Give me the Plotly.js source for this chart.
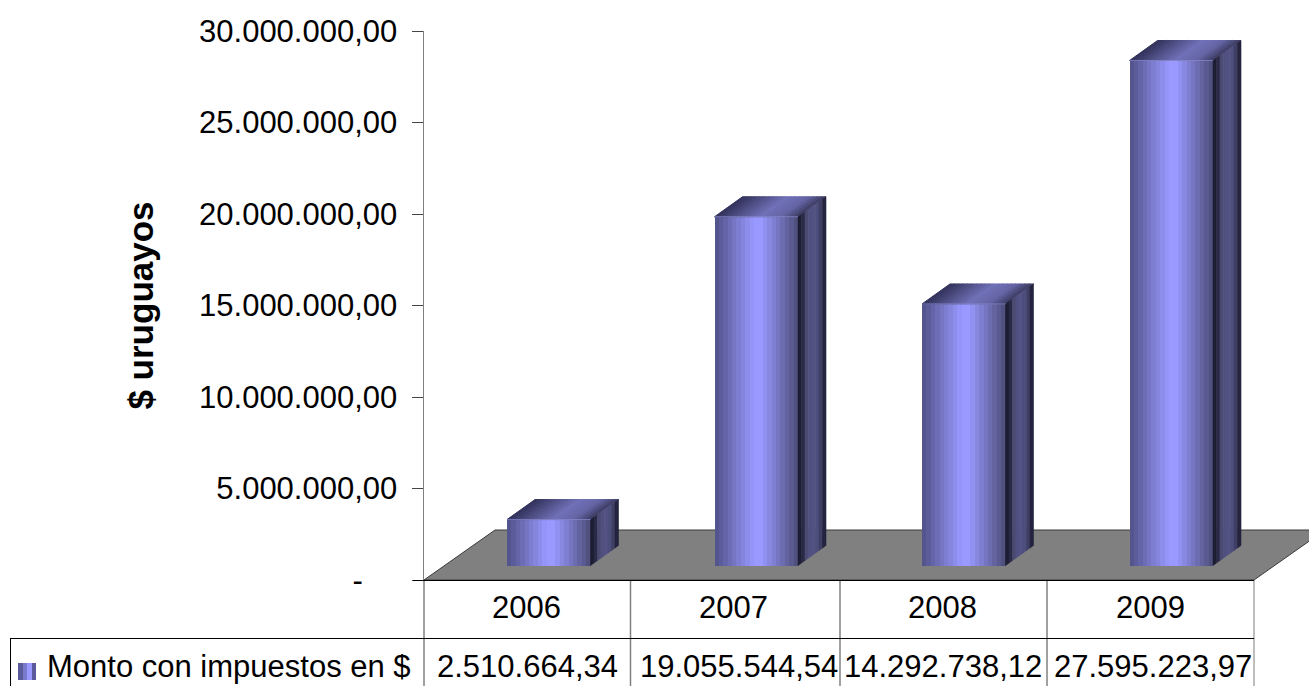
<!DOCTYPE html>
<html><head><meta charset="utf-8">
<script src="https://cdn.plot.ly/plotly-3.0.1.min.js"></script>
<style>html,body{margin:0;padding:0;background:#fff;overflow:hidden}</style>
</head><body><div id="chart" style="width:1309px;height:686px"></div>
<script>
const years = ['2006','2007','2008','2009'];
const values = [2510664.34,19055544.54,14292738.12,27595223.97];
const tableLabels = ['2.510.664,34','19.055.544,54','14.292.738,12','27.595.223,97'];
const seriesName = 'Monto con impuestos en $';
const yTicks = [0,5000000,10000000,15000000,20000000,25000000,30000000];
const yTickText = ['-\u00a0\u00a0\u00a0\u00a0','5.000.000,00','10.000.000,00','15.000.000,00','20.000.000,00','25.000.000,00','30.000.000,00'];

// layout geometry (px)
const W=1309,H=686,L=424,T=31,B=580,catPx=207.5;
const plotW=W-L,plotH=B-T,yMax=30000000;
const ux=p=>p/catPx, uy=p=>p*yMax/plotH;
const barW=ux(83.5), depthX=ux(28), depthY=uy(20), lift=uy(14.5), barShift=ux(21);
const px=p=>(p-L)/plotW, py=p=>(B-p)/plotH;
const yearNudge=[-1,-2,0,0], valueNudge=[0,4,0,3];

function lerpStops(stops,n){const out=[];for(let i=0;i<n;i++){const t=(i+0.5)/n;let k=0;while(k<stops.length-2&&t>stops[k+1][0])k++;const a=stops[k],b=stops[k+1],f=Math.min(1,Math.max(0,(t-a[0])/(b[0]-a[0])));out.push('rgb('+[0,1,2].map(c=>Math.round(a[1][c]+(b[1][c]-a[1][c])*f)).join(',')+')');}return out;}
const frontCols=lerpStops([[0,[80,80,135]],[0.47,[153,153,255]],[0.56,[153,153,255]],[1,[76,76,120]]],19);
const topCols=lerpStops([[0,[48,48,88]],[0.55,[112,112,184]],[0.8,[100,100,165]],[1,[60,60,98]]],19);
const sideCols=['#1d1d33','#2a2a46','#4a4a72','#505080','#525284','#4e4e7c','#3f3f66','#24243e'];

const traces=[];
const left=i=>i+0.5-barW/2+barShift;
frontCols.forEach((c,k)=>{
  const bw=barW/frontCols.length;
  traces.push({type:'bar',x:years.map((_,i)=>i+0.5),y:values,base:values.map(()=>lift),
    width:values.map(()=>bw),offset:values.map(()=>-barW/2+barShift+k*bw),
    marker:{color:c,line:{width:0}},hoverinfo:'skip',showlegend:false});
});
function band(i,f0,f1,kind){
  const top=values[i]+lift;
  if(kind==='top'){const x0=left(i)+barW*f0,x1=left(i)+barW*f1;
    return {x:[x0,x1,x1+depthX,x0+depthX,x0,null],y:[top,top,top+depthY,top+depthY,top,null]};}
  const r=left(i)+barW,a=r+depthX*f0,b=r+depthX*f1;
  return {x:[a,b,b,a,a,null],y:[top+depthY*f0,top+depthY*f1,lift+depthY*f1,lift+depthY*f0,top+depthY*f0,null]};
}
function faces(cols,kind,lw){
  cols.forEach((c,k)=>{
    const xs=[],ys=[];
    values.forEach((_,i)=>{const b=band(i,k/cols.length,(k+1)/cols.length,kind);xs.push(...b.x);ys.push(...b.y);});
    traces.push({type:'scatter',mode:'lines',x:xs,y:ys,fill:'toself',fillcolor:c,line:{color:c,width:lw},hoverinfo:'skip',showlegend:false});
  });
}
faces(topCols,'top',1);
faces(sideCols,'side',0.6);
// light front-top edge
{const xs=[],ys=[];values.forEach((v,i)=>{xs.push(left(i),left(i)+barW,null);ys.push(v+lift,v+lift,null);});
 traces.push({type:'scatter',mode:'lines',x:xs,y:ys,line:{color:'rgba(135,135,205,0.8)',width:1},hoverinfo:'skip',showlegend:false});}

const fd=ux(71), fh=uy(50), xEnd=4;
const shapes=[
 {type:'path',xref:'x',yref:'y',layer:'below',path:`M0,0 L${fd},${fh} L${xEnd+fd},${fh} L${xEnd},0 Z`,fillcolor:'#808080',line:{color:'#3a3a3a',width:1}}
];
const hline=(x0,x1,y,c)=>shapes.push({type:'line',xref:'paper',yref:'paper',x0:px(x0),x1:px(x1),y0:py(y),y1:py(y),line:{color:c||'#000',width:1}});
const vline=(x,y0,y1,c)=>shapes.push({type:'line',xref:'paper',yref:'paper',x0:px(x),x1:px(x),y0:py(y0),y1:py(y1),line:{color:c||'#000',width:1.5}});
vline(424,580,686,'#808080');
[630.5,840,1047].forEach(x=>vline(x,580,686,'#808080'));
vline(1254,580,686,'#a8a8a8');
hline(413,1254,580.5);
hline(10,1254,638.5);
shapes.push({type:'line',xref:'paper',yref:'paper',x0:px(10.5),x1:px(10.5),y0:py(638),y1:py(686),line:{color:'#000',width:1}});
['#5a5a9c','#7a7acc','#9999ff','#5a5a9c'].forEach((c,k)=>{
  const w=[5,4,5,4][k],s=[18,23,27,32][k];
  shapes.push({type:'rect',xref:'paper',yref:'paper',x0:px(s),x1:px(s+w),y0:py(663),y1:py(680),fillcolor:c,line:{width:0}});
});

const font={family:'"Liberation Sans",Arial,sans-serif',size:31,color:'#000'};
const annotations=[];
years.forEach((y,i)=>annotations.push({xref:'x',yref:'paper',x:i+0.5,xshift:yearNudge[i],y:py(607),text:y,showarrow:false,xanchor:'center',yanchor:'middle',font}));
tableLabels.forEach((t,i)=>annotations.push({xref:'x',yref:'paper',x:i+0.5,xshift:valueNudge[i],y:py(666),text:t,showarrow:false,xanchor:'center',yanchor:'middle',font}));
annotations.push({xref:'paper',yref:'paper',x:px(45),y:py(666),text:seriesName,showarrow:false,xanchor:'left',yanchor:'middle',font});

Plotly.newPlot('chart',traces,{
  width:W,height:H,margin:{l:L,r:0,t:T,b:H-B,pad:0},
  paper_bgcolor:'#fff',plot_bgcolor:'rgba(0,0,0,0)',barmode:'overlay',bargap:0,
  xaxis:{range:[0,plotW/catPx],showgrid:false,zeroline:false,showticklabels:false,ticks:'',showline:false},
  yaxis:{range:[0,yMax],tickmode:'array',tickvals:yTicks,ticktext:yTickText,showgrid:false,zeroline:false,
    showline:true,linecolor:'#808080',linewidth:1.5,ticks:'outside',ticklen:11,tickcolor:'#444',tickwidth:1,
    ticklabelstandoff:8,tickfont:font,
    title:{text:'<b>$ uruguayos</b>',font:{family:font.family,size:35,color:'#000'},standoff:35}},
  shapes,annotations,showlegend:false
},{displayModeBar:false,staticPlot:true});
</script></body></html>
